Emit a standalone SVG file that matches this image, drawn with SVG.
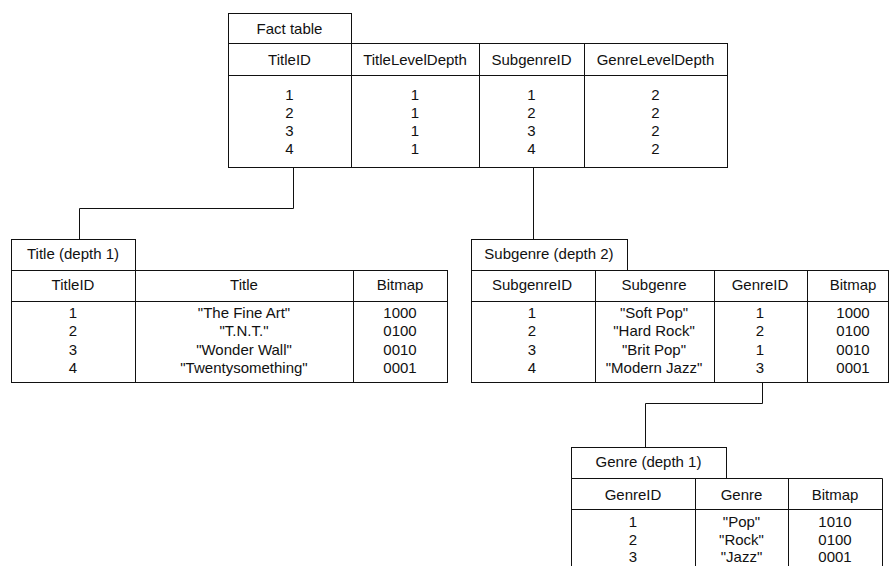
<svg xmlns="http://www.w3.org/2000/svg" width="889" height="566" viewBox="0 0 889 566">
  <style>
    .box { fill: #fff; stroke: #111; stroke-width: 1; }
    .ln { fill: none; stroke: #111; stroke-width: 1; }
    text { font-family: "Liberation Sans", Arial, sans-serif; font-size: 15px; fill: #111; text-anchor: middle; }
  </style>
  <rect width="889" height="566" fill="#fff"/>

  <!-- links between key columns -->
  <g id="connectors">
    <path class="ln" d="M293.5 167.5 V208.5 H79.5 V239.5"/>
    <path class="ln" d="M533.5 167.5 V239.5"/>
    <path class="ln" d="M762.5 382.5 V403.5 H645.5 V447.5"/>
  </g>

  <!-- fact table -->
  <g id="fact-table">
    <rect class="box" x="228.5" y="13.5" width="123" height="30"/>
    <rect class="box" x="228.5" y="43.5" width="499" height="124"/>
    <path class="ln" d="M228.5 75.5 H727.5 M351.5 43.5 V167.5 M479.5 43.5 V167.5 M584.5 43.5 V167.5"/>
    <text x="289.5" y="34">Fact table</text>
    <text x="289.5" y="65">TitleID</text>
    <text x="415" y="65">TitleLevelDepth</text>
    <text x="531.5" y="65">SubgenreID</text>
    <text x="655.5" y="65">GenreLevelDepth</text>
    <text x="289.5" y="99.5">1</text><text x="289.5" y="117.5">2</text><text x="289.5" y="135.5">3</text><text x="289.5" y="153.5">4</text>
    <text x="415" y="99.5">1</text><text x="415" y="117.5">1</text><text x="415" y="135.5">1</text><text x="415" y="153.5">1</text>
    <text x="531.5" y="99.5">1</text><text x="531.5" y="117.5">2</text><text x="531.5" y="135.5">3</text><text x="531.5" y="153.5">4</text>
    <text x="655.5" y="99.5">2</text><text x="655.5" y="117.5">2</text><text x="655.5" y="135.5">2</text><text x="655.5" y="153.5">2</text>
  </g>

  <!-- title dimension -->
  <g id="title-table">
    <rect class="box" x="11.5" y="239.5" width="124" height="31"/>
    <rect class="box" x="11.5" y="270.5" width="436" height="112"/>
    <path class="ln" d="M11.5 301.5 H447.5 M135.5 270.5 V382.5 M353.5 270.5 V382.5"/>
    <text x="73" y="259">Title (depth 1)</text>
    <text x="73" y="290">TitleID</text>
    <text x="244" y="290">Title</text>
    <text x="400" y="290">Bitmap</text>
    <text x="73" y="318">1</text><text x="73" y="336">2</text><text x="73" y="354.5">3</text><text x="73" y="372.5">4</text>
    <text x="244" y="318">"The Fine Art"</text><text x="244" y="336">"T.N.T."</text><text x="244" y="354.5">"Wonder Wall"</text><text x="244" y="372.5">"Twentysomething"</text>
    <text x="400" y="318">1000</text><text x="400" y="336">0100</text><text x="400" y="354.5">0010</text><text x="400" y="372.5">0001</text>
  </g>

  <!-- subgenre dimension -->
  <g id="subgenre-table">
    <rect class="box" x="471.5" y="239.5" width="156" height="31"/>
    <rect class="box" x="471.5" y="270.5" width="417" height="112"/>
    <path class="ln" d="M471.5 301.5 H888.5 M595.5 270.5 V382.5 M714.5 270.5 V382.5 M807.5 270.5 V382.5"/>
    <text x="549" y="259">Subgenre (depth 2)</text>
    <text x="532" y="290">SubgenreID</text>
    <text x="654" y="290">Subgenre</text>
    <text x="760" y="290">GenreID</text>
    <text x="853" y="290">Bitmap</text>
    <text x="532" y="318">1</text><text x="532" y="336">2</text><text x="532" y="354.5">3</text><text x="532" y="372.5">4</text>
    <text x="654" y="318">"Soft Pop"</text><text x="654" y="336">"Hard Rock"</text><text x="654" y="354.5">"Brit Pop"</text><text x="654" y="372.5">"Modern Jazz"</text>
    <text x="760" y="318">1</text><text x="760" y="336">2</text><text x="760" y="354.5">1</text><text x="760" y="372.5">3</text>
    <text x="853" y="318">1000</text><text x="853" y="336">0100</text><text x="853" y="354.5">0010</text><text x="853" y="372.5">0001</text>
  </g>

  <!-- genre dimension -->
  <g id="genre-table">
    <rect class="box" x="571.5" y="447.5" width="155" height="31"/>
    <path class="box" d="M571.5 570 V478.5 H882.5 V570"/>
    <path class="ln" d="M571.5 509.5 H882.5 M695.5 478.5 V570 M788.5 478.5 V570"/>
    <text x="648.5" y="467">Genre (depth 1)</text>
    <text x="633" y="500">GenreID</text>
    <text x="741.5" y="500">Genre</text>
    <text x="835" y="500">Bitmap</text>
    <text x="633" y="527">1</text><text x="633" y="544.5">2</text><text x="633" y="562">3</text>
    <text x="741.5" y="527">"Pop"</text><text x="741.5" y="544.5">"Rock"</text><text x="741.5" y="562">"Jazz"</text>
    <text x="835" y="527">1010</text><text x="835" y="544.5">0100</text><text x="835" y="562">0001</text>
  </g>
</svg>
